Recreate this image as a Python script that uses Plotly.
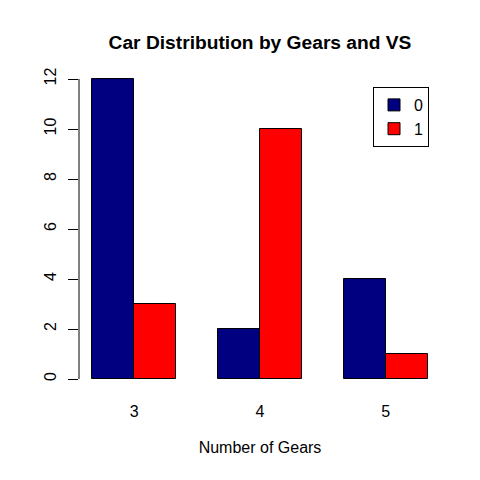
import plotly.graph_objects as go

gears = ["3", "4", "5"]
vs0 = [12, 2, 4]
vs1 = [3, 10, 1]
series_names = ["0", "1"]
y_ticks = [0, 2, 4, 6, 8, 10, 12]

# R barplot(beside=TRUE) positions: bar width 1, space between groups 1
x0 = [1.5 + 3 * i for i in range(len(gears))]
x1 = [2.5 + 3 * i for i in range(len(gears))]
centers = [2 + 3 * i for i in range(len(gears))]

FONT = "Liberation Sans, Arial, Helvetica, sans-serif"

fig = go.Figure()
fig.add_trace(go.Bar(x=x0, y=vs0, width=1, name=series_names[0],
                     marker=dict(color="#000080", line=dict(color="black", width=1))))
fig.add_trace(go.Bar(x=x1, y=vs1, width=1, name=series_names[1],
                     marker=dict(color="#FF0000", line=dict(color="black", width=1))))

fig.update_layout(
    width=480, height=480,
    margin=dict(l=79, r=39, t=67, b=89, autoexpand=False),
    plot_bgcolor="white", paper_bgcolor="white",
    font=dict(family=FONT, size=16, color="black"),
    bargap=0,
    title=dict(text="<b>Car Distribution by Gears and VS</b>", x=260 / 480, xanchor="center",
               y=1 - 42 / 480, yanchor="middle", font=dict(size=19.2, family=FONT)),
    xaxis=dict(range=[0.68, 9.32], tickmode="array", tickvals=centers, ticktext=gears,
               showgrid=False, zeroline=False, showline=False, ticks="",
               ticklabelstandoff=9,
               title=dict(text="Number of Gears", standoff=22, font=dict(size=16))),
    yaxis=dict(range=[-0.48, 12.48], tickmode="array", tickvals=y_ticks,
               ticktext=[str(v) for v in y_ticks], tickangle=-90,
               showgrid=False, zeroline=False, showline=False,
               ticks="outside", ticklen=10, tickwidth=1, tickcolor="black",
               ticklabelstandoff=6),
    legend=dict(x=(373 - 79) / 362, y=(391 - 87) / 324,
                xanchor="left", yanchor="top",
                bordercolor="black", borderwidth=1, bgcolor="white",
                font=dict(size=16), itemwidth=30, tracegroupgap=0),
    showlegend=True,
)
fig.add_shape(type="line", xref="paper", yref="y", x0=0, x1=0, y0=0, y1=12,
              line=dict(color="black", width=1))

fig.write_html("out.html")
